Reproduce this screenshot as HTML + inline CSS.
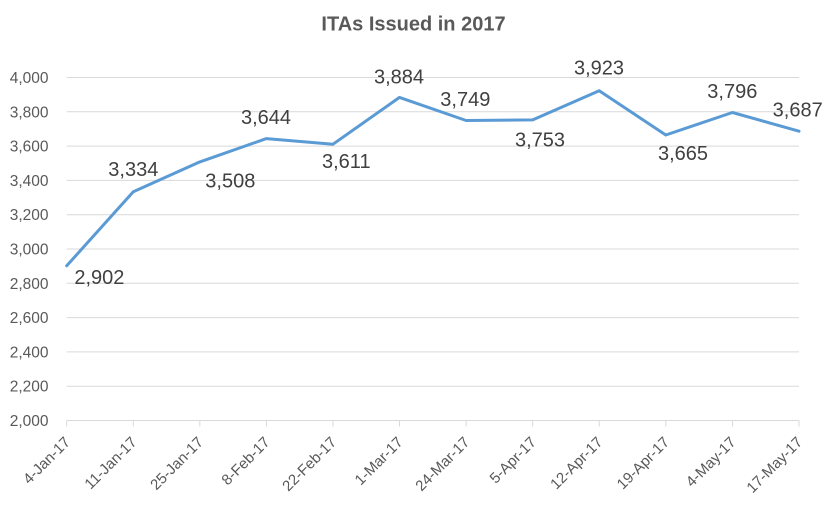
<!DOCTYPE html>
<html>
<head>
<meta charset="utf-8">
<style>
  html, body { margin: 0; padding: 0; background: #ffffff; }
  svg { display: block; }
  text { font-family: "Liberation Sans", "DejaVu Sans", sans-serif; }
</style>
</head>
<body>
<svg width="830" height="510" viewBox="0 0 830 510" xmlns="http://www.w3.org/2000/svg">
  <rect x="0" y="0" width="830" height="510" fill="#ffffff"/>
  <!-- Title -->
  <text x="413.5" y="30.5" text-anchor="middle" font-size="20" font-weight="bold" fill="#595959">ITAs Issued in 2017</text>

  <!-- Gridlines -->
  <g stroke="#D9D9D9" stroke-width="1">
    <line x1="66.7" y1="77.5" x2="799" y2="77.5"/>
    <line x1="66.7" y1="111.8" x2="799" y2="111.8"/>
    <line x1="66.7" y1="146.1" x2="799" y2="146.1"/>
    <line x1="66.7" y1="180.4" x2="799" y2="180.4"/>
    <line x1="66.7" y1="214.7" x2="799" y2="214.7"/>
    <line x1="66.7" y1="249.0" x2="799" y2="249.0"/>
    <line x1="66.7" y1="283.3" x2="799" y2="283.3"/>
    <line x1="66.7" y1="317.6" x2="799" y2="317.6"/>
    <line x1="66.7" y1="351.9" x2="799" y2="351.9"/>
    <line x1="66.7" y1="386.2" x2="799" y2="386.2"/>
    <line x1="66.7" y1="420.5" x2="799" y2="420.5"/>
    <!-- ticks -->
    <line x1="66.7" y1="420.5" x2="66.7" y2="426.5"/>
    <line x1="133.3" y1="420.5" x2="133.3" y2="426.5"/>
    <line x1="199.8" y1="420.5" x2="199.8" y2="426.5"/>
    <line x1="266.4" y1="420.5" x2="266.4" y2="426.5"/>
    <line x1="333.0" y1="420.5" x2="333.0" y2="426.5"/>
    <line x1="399.5" y1="420.5" x2="399.5" y2="426.5"/>
    <line x1="466.1" y1="420.5" x2="466.1" y2="426.5"/>
    <line x1="532.7" y1="420.5" x2="532.7" y2="426.5"/>
    <line x1="599.2" y1="420.5" x2="599.2" y2="426.5"/>
    <line x1="665.8" y1="420.5" x2="665.8" y2="426.5"/>
    <line x1="732.4" y1="420.5" x2="732.4" y2="426.5"/>
    <line x1="799" y1="420.5" x2="799" y2="426.5"/>
  </g>

  <!-- Y axis labels -->
  <g font-size="15.5" fill="#595959" text-anchor="end">
    <text x="48.5" y="83">4,000</text>
    <text x="48.5" y="117.3">3,800</text>
    <text x="48.5" y="151.6">3,600</text>
    <text x="48.5" y="185.9">3,400</text>
    <text x="48.5" y="220.2">3,200</text>
    <text x="48.5" y="254.5">3,000</text>
    <text x="48.5" y="288.8">2,800</text>
    <text x="48.5" y="323.1">2,600</text>
    <text x="48.5" y="357.4">2,400</text>
    <text x="48.5" y="391.7">2,200</text>
    <text x="48.5" y="426">2,000</text>
  </g>

  <!-- X axis labels -->
  <g font-size="15" fill="#595959" text-anchor="end">
    <text transform="translate(71,443) rotate(-45)">4-Jan-17</text>
    <text transform="translate(137.6,443) rotate(-45)">11-Jan-17</text>
    <text transform="translate(204.1,443) rotate(-45)">25-Jan-17</text>
    <text transform="translate(270.7,443) rotate(-45)">8-Feb-17</text>
    <text transform="translate(337.3,443) rotate(-45)">22-Feb-17</text>
    <text transform="translate(403.8,443) rotate(-45)">1-Mar-17</text>
    <text transform="translate(470.4,443) rotate(-45)">24-Mar-17</text>
    <text transform="translate(537,443) rotate(-45)">5-Apr-17</text>
    <text transform="translate(603.5,443) rotate(-45)">12-Apr-17</text>
    <text transform="translate(670.1,443) rotate(-45)">19-Apr-17</text>
    <text transform="translate(736.7,443) rotate(-45)">4-May-17</text>
    <text transform="translate(803.3,443) rotate(-45)">17-May-17</text>
  </g>

  <!-- Series line -->
  <polyline fill="none" stroke="#5B9BD5" stroke-width="3" stroke-linejoin="round" stroke-linecap="round"
    points="66.7,265.8 133.3,191.7 199.8,161.9 266.4,138.6 333.0,144.2 399.5,97.4 466.1,120.5 532.7,119.9 599.2,90.7 665.8,135.0 732.4,112.5 799,131.2"/>

  <!-- Data labels -->
  <g font-size="20" fill="#404040" text-anchor="middle">
    <text x="99.4" y="284">2,902</text>
    <text x="133.3" y="176">3,334</text>
    <text x="230.3" y="187.3">3,508</text>
    <text x="266" y="124">3,644</text>
    <text x="346.3" y="168">3,611</text>
    <text x="399" y="83.3">3,884</text>
    <text x="465.3" y="106">3,749</text>
    <text x="540" y="146.7">3,753</text>
    <text x="599" y="74.7">3,923</text>
    <text x="683" y="160">3,665</text>
    <text x="732.3" y="98">3,796</text>
    <text x="797.7" y="116.7">3,687</text>
  </g>
</svg>
</body>
</html>
